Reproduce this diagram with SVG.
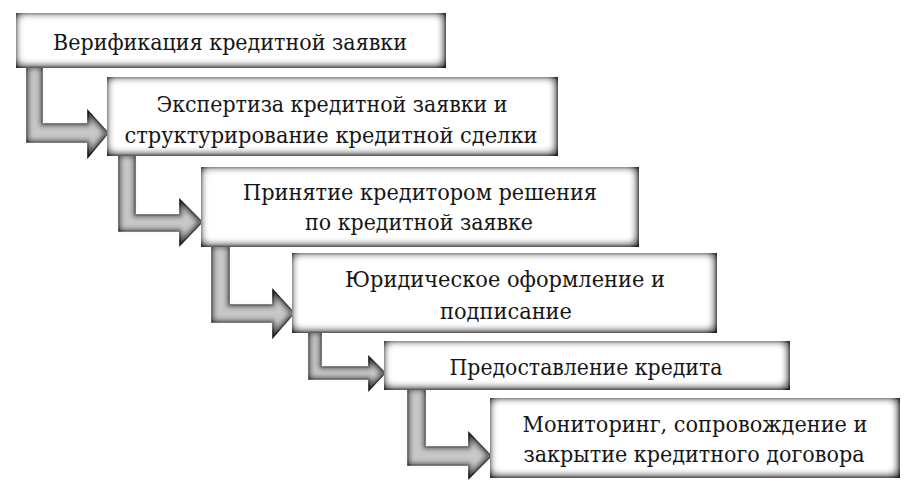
<svg xmlns="http://www.w3.org/2000/svg" width="922" height="499" viewBox="0 0 922 499">
<defs>
<filter id="boxglow" x="-5%" y="-10%" width="110%" height="120%">
 <feMorphology in="SourceAlpha" operator="erode" radius="5" result="e"/>
 <feOffset in="e" dx="-1" dy="-1" result="eo"/>
 <feGaussianBlur in="eo" stdDeviation="3.5" result="b"/>
 <feFlood flood-color="#ffffff"/>
 <feComposite in2="b" operator="in" result="glow"/>
 <feMerge><feMergeNode in="SourceGraphic"/><feMergeNode in="glow"/><feMergeNode in="glow"/></feMerge>
</filter>
<filter id="arrowglow" x="-10%" y="-10%" width="120%" height="120%">
 <feMorphology in="SourceAlpha" operator="erode" radius="3" result="e"/>
 <feGaussianBlur in="e" stdDeviation="2.5" result="b"/>
 <feFlood flood-color="#c8c8c8"/>
 <feComposite in2="b" operator="in" result="glow"/>
 <feMerge><feMergeNode in="SourceGraphic"/><feMergeNode in="glow"/></feMerge>
</filter>
</defs>
<style>
.box{fill:#505050;stroke:#151515;stroke-width:2;filter:url(#boxglow)}
.arr{fill:#505050;stroke:#1a1a1a;stroke-width:1.6;stroke-linejoin:miter;filter:url(#arrowglow)}
</style>
<rect width="922" height="499" fill="#ffffff"/>
<g id="connectors">
 <path class="arr" d="M27,67 L42,67 L42,124 L88,124 L88,111 L108,133 L88,157 L88,142 L27,142 Z"/>
 <path class="arr" d="M119,155 L135,155 L135,215 L180,215 L180,200 L202,222 L180,245 L180,231 L119,231 Z"/>
 <path class="arr" d="M212,246 L229,246 L229,305 L273,305 L273,290 L294,313 L273,337 L273,322 L212,322 Z"/>
 <path class="arr" d="M309,332 L321,332 L321,367 L369,367 L369,357 L385,373 L369,390 L369,379 L309,379 Z"/>
 <path class="arr" d="M408,389 L425,389 L425,447 L469,447 L469,433 L491,456 L469,478 L469,465 L408,465 Z"/>
</g>
<g font-family="DejaVu Serif, Liberation Serif, serif" font-size="22" fill="#161616" text-anchor="middle">
<g id="n1">
 <rect class="box" x="17" y="14" width="428" height="53"/>
 <text x="230" y="50" textLength="354" lengthAdjust="spacingAndGlyphs">Верификация кредитной заявки</text>
</g>
<g id="n2">
 <rect class="box" x="108" y="78" width="449" height="77"/>
 <text x="332" y="112" textLength="351" lengthAdjust="spacingAndGlyphs">Экспертиза кредитной заявки и</text>
 <text x="331" y="143" textLength="413" lengthAdjust="spacingAndGlyphs">структурирование кредитной сделки</text>
</g>
<g id="n3">
 <rect class="box" x="202" y="168" width="436" height="78"/>
 <text x="420" y="200" textLength="354" lengthAdjust="spacingAndGlyphs">Принятие кредитором решения</text>
 <text x="419" y="230" textLength="228" lengthAdjust="spacingAndGlyphs">по кредитной заявке</text>
</g>
<g id="n4">
 <rect class="box" x="293" y="254" width="423" height="78"/>
 <text x="505" y="287" textLength="320" lengthAdjust="spacingAndGlyphs">Юридическое оформление и</text>
 <text x="506" y="319" textLength="132" lengthAdjust="spacingAndGlyphs">подписание</text>
</g>
<g id="n5">
 <rect class="box" x="385" y="342" width="404" height="47"/>
 <text x="586" y="375" textLength="273" lengthAdjust="spacingAndGlyphs">Предоставление кредита</text>
</g>
<g id="n6">
 <rect class="box" x="491" y="399" width="408" height="78"/>
 <text x="695" y="432" textLength="345" lengthAdjust="spacingAndGlyphs">Мониторинг, сопровождение и</text>
 <text x="694" y="462" textLength="341" lengthAdjust="spacingAndGlyphs">закрытие кредитного договора</text>
</g>
</g>
</svg>
